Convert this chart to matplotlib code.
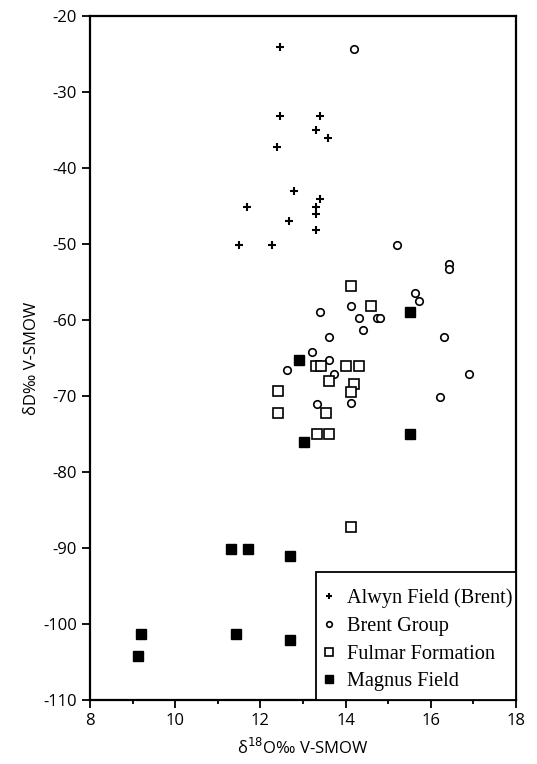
import matplotlib.pyplot as plt
from matplotlib.ticker import MultipleLocator
from matplotlib.patches import Rectangle

# Alwyn Field (Brent)
alwyn_x = [12.47, 12.47, 13.39, 13.31, 13.59, 12.40, 12.80, 13.39, 11.69, 13.31, 13.31, 12.67, 13.31, 11.49, 12.28]
alwyn_y = [-24.1, -33.2, -33.2, -35.0, -36.1, -37.2, -43.0, -44.1, -45.2, -45.2, -46.1, -47.0, -48.1, -50.1, -50.1]

# Brent Group
brent_x = [14.20, 15.20, 16.42, 16.42, 15.64, 15.72, 13.41, 14.12, 14.32, 14.73, 14.81, 14.40, 13.60, 16.30,
           13.21, 13.60, 12.62, 13.73, 16.90, 16.22, 14.12, 13.33, 13.54]
brent_y = [-24.3, -50.2, -52.6, -53.3, -56.4, -57.5, -59.0, -58.2, -59.8, -59.7, -59.7, -61.3, -62.2, -62.2,
           -64.2, -65.3, -66.6, -67.1, -67.1, -70.2, -70.9, -71.1, -72.1]

# Fulmar Formation
fulmar_x = [14.12, 14.60, 13.30, 13.42, 14.00, 14.32, 13.60, 14.20, 14.12, 12.41, 12.41, 13.54, 13.32, 13.60, 14.13]
fulmar_y = [-55.5, -58.2, -66.0, -66.0, -66.0, -66.0, -68.0, -68.4, -69.5, -69.3, -72.2, -72.2, -75.0, -75.0, -87.3]

# Magnus Field
magnus_x = [15.51, 12.90, 15.51, 13.02, 11.31, 11.71, 12.69, 9.20, 11.43, 12.69, 9.13]
magnus_y = [-59.0, -65.3, -75.0, -76.1, -90.2, -90.2, -91.1, -101.3, -101.3, -102.1, -104.2]

plt.rcParams['font.family'] = ['Open Sans', 'DejaVu Sans']
plt.rcParams['axes.unicode_minus'] = False

fig = plt.figure(figsize=(5.37, 7.64), dpi=100)
ax = fig.add_axes([0.1676, 0.0838, 0.7933, 0.8953])

ax.plot(alwyn_x, alwyn_y, '+', color='black', markersize=6, markeredgewidth=1.5, label='Alwyn Field (Brent)')
ax.plot(brent_x, brent_y, 'o', color='black', markerfacecolor='white', markersize=5.4, markeredgewidth=1.2,
        label='Brent Group')
ax.plot(fulmar_x, fulmar_y, 's', color='black', markerfacecolor='white', markersize=6.8, markeredgewidth=1.2,
        label='Fulmar Formation')
ax.plot(magnus_x, magnus_y, 's', color='black', markersize=7, label='Magnus Field')

ax.set_xlim(8, 18)
ax.set_ylim(-110, -20)
ax.xaxis.set_major_locator(MultipleLocator(2))
ax.xaxis.set_minor_locator(MultipleLocator(1))
ax.yaxis.set_major_locator(MultipleLocator(10))
ax.tick_params(which='both', direction='out', width=1.3, labelsize=12)
ax.tick_params(which='major', length=6)
ax.tick_params(which='minor', length=3)
for s in ax.spines.values():
    s.set_linewidth(1.6)

ax.set_xlabel('δ$^{18}$O‰ V-SMOW', fontsize=12, labelpad=6)
ax.set_ylabel('δD‰ V-SMOW', fontsize=12, labelpad=2)

# legend box
ax.add_patch(Rectangle((0.5305, 0), 0.4695, 0.187, transform=ax.transAxes, fill=True, facecolor='white',
                       edgecolor='black', linewidth=1.3, zorder=4, clip_on=False))
leg = ax.legend(loc='lower right', bbox_to_anchor=(1.0, 0.008), frameon=False, borderaxespad=0, markerscale=0.75,
                handlelength=0.8, handletextpad=0.5, borderpad=0.15, labelspacing=0.42,
                prop={'family': 'Liberation Serif', 'size': 14.6})
leg.set_zorder(5)

fig.savefig('out.png', dpi=100)
